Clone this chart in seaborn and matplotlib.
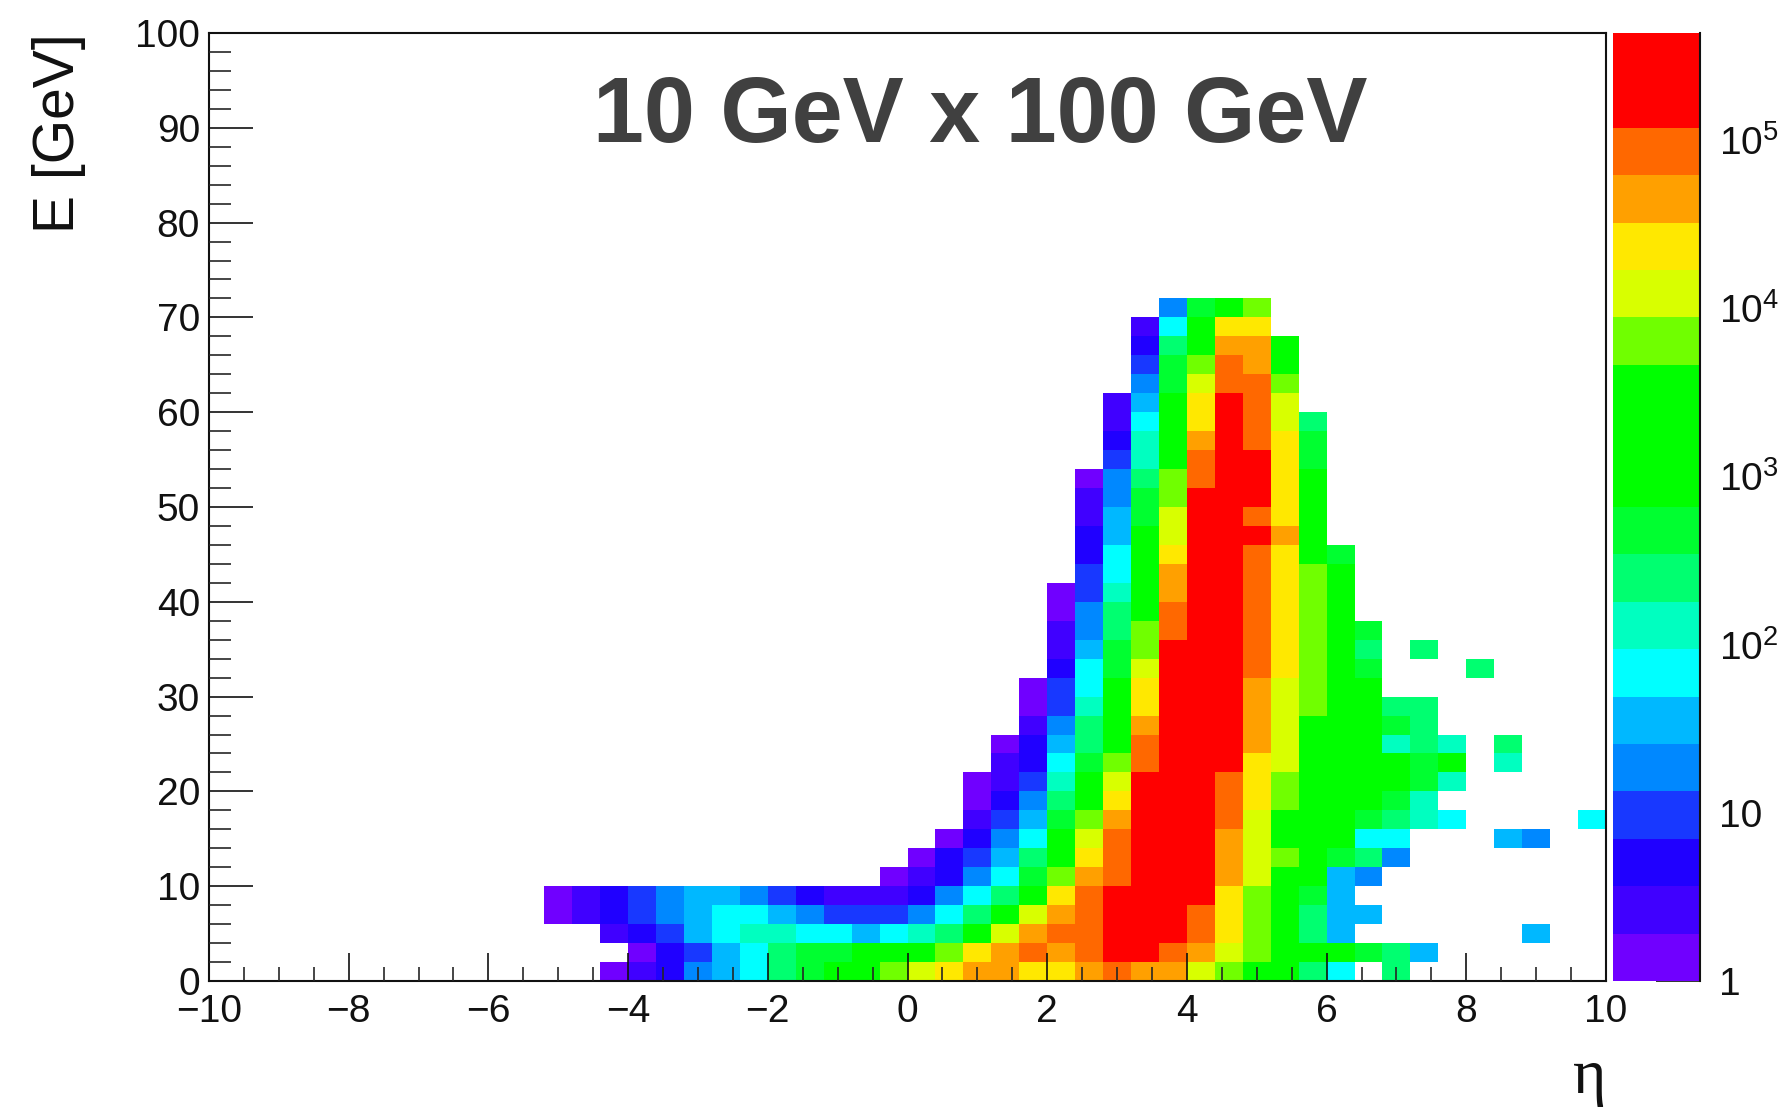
import numpy as np
import pandas as pd
import seaborn as sns
import matplotlib
matplotlib.use("Agg")
import matplotlib.pyplot as plt
from matplotlib.colors import ListedColormap, LogNorm
from matplotlib.ticker import FixedLocator, NullFormatter

# Colour band edges of the palette
Z_MIN, Z_MAX = 1.0, 4.33e5
BAND_COLOURS = ["#7000ff", "#4000ff", "#2000ff", "#1838ff", "#0088ff", "#00b8ff", "#00ffff",
                "#00ffc0", "#00ff70", "#00ff30", "#00ff00", "#00ff00", "#00ff00", "#70ff00",
                "#d8ff00", "#ffe800", "#ffa000", "#ff6800", "#ff0000", "#ff0000"]
# Typical count read for a cell in each colour band
BAND_COUNTS = [1.38, 2.65, 5.07, 9.7, 18.6, 35.6, 68.1, 130, 249, 478, 914, 1750, 3350,
               6410, 12300, 23500, 45000, 86100, 165000, 315000]

ETA_EDGES_N = 50
E_BINS_N = 50
ETA_MIN, ETA_MAX = -10, 10
E_MIN, E_MAX = 0, 100

# First eta bin filled in each energy row (row 0 = 0-2 GeV)
FIRST_BIN = [14, 15, 14, 12, 12, 24, 25, 26, 27, 27, 27, 28, 28, 29, 29, 29, 30, 30,
             30, 30, 30, 31, 31, 31, 31, 31, 31, 32, 32, 32, 32, 33, 33, 33, 33, 34]
# Colour band of each cell in that row, -1 = empty
BANDS = [
    [0,1,2,4,5,6,8,9,10,10,13,14,15,16,16,15,15,16,17,16,16,14,13,10,10,8,6,-1,8],
    [0,2,3,5,6,8,9,9,10,10,10,13,15,16,17,16,17,18,18,17,16,14,13,10,10,10,9,8,5],
    [1,2,3,5,6,7,7,6,6,5,6,7,8,10,14,16,17,17,18,18,18,17,15,13,10,8,5,-1,-1,-1,-1,-1,-1,5],
    [0,1,2,3,4,5,6,6,5,4,3,3,3,4,6,8,10,14,16,17,18,18,18,17,15,13,10,8,5,5],
    [0,1,2,3,4,5,5,4,3,2,1,1,1,2,4,6,8,10,15,17,18,18,18,18,15,13,10,9,5],
    [0,1,2,4,6,9,13,16,17,18,18,18,16,14,10,10,5,4],
    [0,2,3,5,8,10,15,17,18,18,18,16,14,13,10,9,8,4],
    [0,2,4,6,10,14,17,18,18,18,16,14,10,10,10,6,6,-1,-1,-1,5,4],
    [1,3,5,9,13,16,18,18,18,17,14,10,10,10,9,8,7,6,-1,-1,-1,-1,6],
    [0,2,4,8,10,15,18,18,18,17,15,13,10,10,10,9,7],
    [0,1,3,7,10,14,18,18,18,17,15,13,10,10,10,10,9,7],
    [1,2,6,9,13,17,18,18,18,15,14,10,10,10,10,9,10,-1,7],
    [0,2,5,8,10,17,18,18,18,16,14,10,10,10,7,8,7,-1,8],
    [1,4,8,10,16,18,18,18,16,14,10,10,10,9,8],
    [0,3,7,10,15,18,18,18,16,14,13,10,10,8,8],
    [0,3,6,10,15,18,18,18,16,14,13,10,10],
    [2,6,9,14,18,18,18,17,15,13,10,9,-1,-1,-1,8],
    [1,5,9,13,18,18,18,17,15,13,10,8,-1,8],
    [1,4,8,13,17,18,18,17,15,13,10,9],
    [0,4,8,10,17,18,18,17,15,13,10],
    [0,3,7,10,16,18,18,17,15,13,10],
    [3,6,10,16,18,18,17,15,13,10],
    [2,6,10,15,18,18,17,15,10,9],
    [2,5,10,14,18,18,18,16,10],
    [1,5,9,14,18,18,17,15,10],
    [1,4,9,13,18,18,18,15,10],
    [0,4,8,13,17,18,18,15,10],
    [3,7,10,17,18,18,15,9],
    [2,7,10,16,18,17,15,9],
    [1,6,10,15,18,17,14,8],
    [1,5,10,15,18,17,14],
    [4,9,14,17,17,13],
    [3,9,13,17,16,10],
    [2,8,10,16,16,10],
    [1,6,10,15,15],
    [4,9,10,13],
]

X_MAJOR = [-10, -8, -6, -4, -2, 0, 2, 4, 6, 8, 10]
Y_MAJOR = [0, 10, 20, 30, 40, 50, 60, 70, 80, 90, 100]
Z_MAJOR = [1, 10, 100, 1000, 10000, 100000]
Z_LABELS = ["1", "10", r"$10^{2}$", r"$10^{3}$", r"$10^{4}$", r"$10^{5}$"]
TITLE = "10 GeV x 100 GeV"
X_LABEL = "η"
Y_LABEL = "E [GeV]"

counts = np.full((E_BINS_N, ETA_EDGES_N), np.nan)
for row, (first, bands) in enumerate(zip(FIRST_BIN, BANDS)):
    for k, b in enumerate(bands):
        if b >= 0:
            counts[row, first + k] = BAND_COUNTS[b]
table = pd.DataFrame(counts)

sns.set_theme(style="white")
plt.rcParams["font.family"] = ["Liberation Sans", "DejaVu Sans"]
plt.rcParams["mathtext.fontset"] = "custom"
plt.rcParams["mathtext.rm"] = "Liberation Sans"
plt.rcParams["mathtext.default"] = "regular"
plt.rcParams["axes.unicode_minus"] = True

W, H = 1784, 1109
fig = plt.figure(figsize=(W / 100, H / 100), dpi=100, facecolor="white")
L, R, T, B = 209, 1606, 33, 981
ax = fig.add_axes([L / W, 1 - B / H, (R - L) / W, (B - T) / H])
cax = fig.add_axes([1613 / W, 1 - B / H, 87 / W, (B - T) / H])

cmap = ListedColormap(BAND_COLOURS)
norm = LogNorm(vmin=Z_MIN, vmax=Z_MAX)
sns.heatmap(table, ax=ax, cbar_ax=cax, cmap=cmap, norm=norm, mask=table.isna(),
            cbar=True, xticklabels=False, yticklabels=False, linewidths=0, rasterized=True)

ax.set_xlim(0, ETA_EDGES_N)
ax.set_ylim(0, E_BINS_N)
to_x = lambda v: (v - ETA_MIN) / (ETA_MAX - ETA_MIN) * ETA_EDGES_N
to_y = lambda v: (v - E_MIN) / (E_MAX - E_MIN) * E_BINS_N

ax.xaxis.set_major_locator(FixedLocator([to_x(v) for v in X_MAJOR]))
ax.set_xticklabels([str(v).replace("-", "\u2212") for v in X_MAJOR])
ax.xaxis.set_minor_locator(FixedLocator([to_x(v) for v in np.arange(-10, 10.01, 0.5)]))
ax.yaxis.set_major_locator(FixedLocator([to_y(v) for v in Y_MAJOR]))
ax.set_yticklabels([str(v) for v in Y_MAJOR], rotation=0)
ax.yaxis.set_minor_locator(FixedLocator([to_y(v) for v in range(0, 101, 2)]))
ax.xaxis.set_minor_formatter(NullFormatter())
ax.yaxis.set_minor_formatter(NullFormatter())

FS = 28
ax.tick_params(axis="x", which="major", direction="in", length=20, width=1.2, bottom=True,
               top=False, labelsize=FS, pad=9.5, colors="#111111")
ax.tick_params(axis="x", which="minor", direction="in", length=10, width=1.2, bottom=True, top=False)
ax.tick_params(axis="y", which="major", direction="in", length=31.5, width=1.2, left=True,
               right=False, labelsize=FS, pad=6.5, colors="#111111")
ax.tick_params(axis="y", which="minor", direction="in", length=16, width=1.2, left=True, right=False)
for s in ax.spines.values():
    s.set_visible(True)
    s.set_linewidth(1.5)
    s.set_color("#111111")
ax.set_axisbelow(False)

# Palette axis
cbar = ax.collections[0].colorbar
cbar.outline.set_visible(False)
cax.set_yscale("log")
cax.set_ylim(Z_MIN, Z_MAX)
cax.yaxis.set_major_locator(FixedLocator(Z_MAJOR))
cax.set_yticklabels(Z_LABELS)
minors = [m * 10 ** e for e in range(0, 6) for m in range(2, 10) if m * 10 ** e <= Z_MAX]
cax.yaxis.set_minor_locator(FixedLocator(minors))
cax.yaxis.set_minor_formatter(NullFormatter())
cax.yaxis.set_ticks_position("right")
cax.tick_params(axis="y", which="major", direction="in", length=31.5, width=1.2, labelsize=FS,
                pad=14, colors="#111111")
cax.tick_params(axis="y", which="minor", direction="in", length=16, width=1.2, colors="#111111")
cax.tick_params(axis="x", bottom=False, labelbottom=False)
for name, s in cax.spines.items():
    s.set_visible(name == "right")
    s.set_linewidth(1.5)
    s.set_color("#111111")

fig.text(980 / W, 1 - 118 / H, TITLE, fontsize=66, fontweight="bold", color="#404040",
         ha="center", va="center")
fig.text(59 / W, 1 - 33 / H, Y_LABEL, fontsize=41, rotation=90, ha="center", va="top", color="#111111")
fig.text(1590 / W, 1 - 1078 / H, X_LABEL, fontsize=46, family=["Liberation Serif", "DejaVu Serif"],
         ha="center", va="center", color="#111111")

fig.savefig("out.png", dpi=100, facecolor="white")
